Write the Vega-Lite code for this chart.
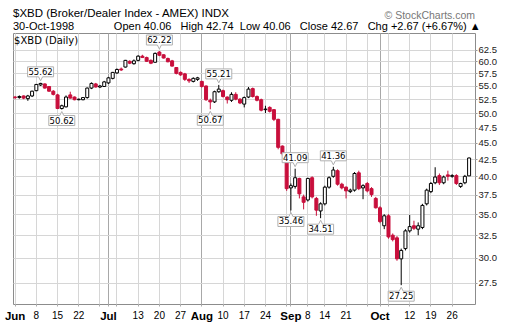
{
"$schema": "https://vega.github.io/schema/vega-lite/v6.json",
"width": 462, "height": 271,
"autosize": "none",
"padding": {"left": 13, "top": 33, "right": 35, "bottom": 23},
"background": "white",
"title": {
 "text": "$XBD (Broker/Dealer Index - AMEX) INDX",
 "subtitle": "30-Oct-1998\u00a0\u00a0\u00a0\u00a0\u00a0\u00a0\u00a0\u00a0\u00a0\u00a0\u00a0\u00a0\u00a0Open 40.06\u00a0\u00a0\u00a0High 42.74\u00a0\u00a0Low 40.06\u00a0\u00a0\u00a0Close 42.67\u00a0\u00a0\u00a0Chg +2.67 (+6.67%) \u25b2",
 "anchor": "start", "frame": "group", "offset": -21,
 "font": "Liberation Sans", "fontSize": 11.5, "fontWeight": "normal", "color": "#000",
 "subtitleFont": "Liberation Sans", "subtitleFontSize": 11, "subtitleColor": "#000", "subtitlePadding": 1
},
"config": {"view": {"stroke": "#8c8c8c"}},
"data": {"values": [
{"d":"1998-06-01","o":52.9,"h":53.1,"l":52.5,"c":52.8},
{"d":"1998-06-02","o":52.8,"h":53.2,"l":52.6,"c":53.0},
{"d":"1998-06-03","o":53.1,"h":53.2,"l":52.5,"c":52.7},
{"d":"1998-06-04","o":52.6,"h":53.3,"l":52.2,"c":53.1},
{"d":"1998-06-05","o":53.1,"h":54.1,"l":52.9,"c":54.0},
{"d":"1998-06-08","o":54.1,"h":55.4,"l":54.0,"c":55.3},
{"d":"1998-06-09","o":55.2,"h":55.62,"l":55.0,"c":55.5,"a":"above"},
{"d":"1998-06-10","o":55.4,"h":55.5,"l":54.5,"c":54.6},
{"d":"1998-06-11","o":54.9,"h":55.0,"l":53.9,"c":54.0},
{"d":"1998-06-12","o":54.0,"h":54.2,"l":53.2,"c":53.4},
{"d":"1998-06-15","o":53.3,"h":53.5,"l":50.7,"c":50.8},
{"d":"1998-06-16","o":50.8,"h":51.5,"l":50.62,"c":51.3,"a":"below"},
{"d":"1998-06-17","o":51.1,"h":53.2,"l":51.0,"c":52.9},
{"d":"1998-06-18","o":53.3,"h":53.9,"l":52.6,"c":52.7},
{"d":"1998-06-19","o":52.9,"h":53.0,"l":52.3,"c":52.4},
{"d":"1998-06-22","o":52.4,"h":52.6,"l":52.3,"c":52.5},
{"d":"1998-06-23","o":52.4,"h":52.9,"l":52.3,"c":52.8},
{"d":"1998-06-24","o":52.8,"h":54.7,"l":52.6,"c":54.6},
{"d":"1998-06-25","o":54.6,"h":55.7,"l":54.4,"c":55.5},
{"d":"1998-06-26","o":55.4,"h":55.6,"l":54.7,"c":54.8},
{"d":"1998-06-29","o":54.8,"h":55.2,"l":54.6,"c":55.0},
{"d":"1998-06-30","o":54.9,"h":56.0,"l":54.8,"c":55.8},
{"d":"1998-07-01","o":55.6,"h":56.8,"l":55.4,"c":56.6},
{"d":"1998-07-02","o":56.5,"h":57.8,"l":56.3,"c":57.7},
{"d":"1998-07-06","o":57.6,"h":58.5,"l":57.4,"c":58.3},
{"d":"1998-07-07","o":58.4,"h":58.7,"l":58.0,"c":58.2},
{"d":"1998-07-08","o":58.8,"h":60.3,"l":58.7,"c":60.2},
{"d":"1998-07-09","o":60.0,"h":60.2,"l":59.4,"c":59.6},
{"d":"1998-07-10","o":59.5,"h":60.4,"l":59.3,"c":60.1},
{"d":"1998-07-13","o":60.2,"h":61.3,"l":60.0,"c":61.1},
{"d":"1998-07-14","o":61.1,"h":61.4,"l":60.7,"c":60.8},
{"d":"1998-07-15","o":60.8,"h":61.0,"l":59.9,"c":60.0},
{"d":"1998-07-16","o":60.2,"h":60.4,"l":59.4,"c":59.6},
{"d":"1998-07-17","o":59.8,"h":61.9,"l":59.7,"c":61.7},
{"d":"1998-07-20","o":62.0,"h":62.22,"l":61.1,"c":61.3,"a":"above"},
{"d":"1998-07-21","o":61.4,"h":61.5,"l":60.6,"c":60.7},
{"d":"1998-07-22","o":60.6,"h":60.8,"l":59.8,"c":59.9},
{"d":"1998-07-23","o":60.1,"h":60.3,"l":58.9,"c":59.0},
{"d":"1998-07-24","o":58.7,"h":58.8,"l":57.3,"c":57.5},
{"d":"1998-07-27","o":57.7,"h":57.9,"l":57.0,"c":57.2},
{"d":"1998-07-28","o":57.4,"h":57.6,"l":56.0,"c":56.3},
{"d":"1998-07-29","o":56.3,"h":56.5,"l":55.6,"c":56.0},
{"d":"1998-07-30","o":55.9,"h":56.7,"l":55.7,"c":56.5},
{"d":"1998-07-31","o":56.3,"h":56.8,"l":56.0,"c":56.6},
{"d":"1998-08-03","o":55.9,"h":56.0,"l":54.7,"c":54.9},
{"d":"1998-08-04","o":55.0,"h":55.1,"l":52.2,"c":52.4},
{"d":"1998-08-05","o":52.3,"h":52.6,"l":50.67,"c":52.0,"a":"below"},
{"d":"1998-08-06","o":52.0,"h":54.1,"l":51.8,"c":53.9},
{"d":"1998-08-07","o":53.9,"h":55.21,"l":53.7,"c":54.4,"a":"above"},
{"d":"1998-08-10","o":54.1,"h":54.3,"l":52.8,"c":53.0},
{"d":"1998-08-11","o":52.9,"h":53.0,"l":51.7,"c":52.4},
{"d":"1998-08-12","o":52.3,"h":53.8,"l":52.0,"c":53.4},
{"d":"1998-08-13","o":53.4,"h":53.8,"l":52.3,"c":52.5},
{"d":"1998-08-14","o":52.5,"h":52.7,"l":51.6,"c":51.8},
{"d":"1998-08-17","o":51.6,"h":53.0,"l":51.0,"c":52.8},
{"d":"1998-08-18","o":52.9,"h":54.8,"l":52.7,"c":54.4},
{"d":"1998-08-19","o":54.5,"h":54.7,"l":52.8,"c":53.0},
{"d":"1998-08-20","o":53.0,"h":53.2,"l":52.1,"c":52.3},
{"d":"1998-08-21","o":52.4,"h":52.6,"l":50.3,"c":50.5},
{"d":"1998-08-24","o":50.6,"h":51.3,"l":50.0,"c":50.7},
{"d":"1998-08-25","o":51.0,"h":51.2,"l":50.1,"c":50.3},
{"d":"1998-08-26","o":50.6,"h":50.7,"l":48.6,"c":48.9},
{"d":"1998-08-27","o":48.9,"h":49.0,"l":44.0,"c":44.3},
{"d":"1998-08-28","o":44.5,"h":44.6,"l":43.0,"c":43.3},
{"d":"1998-08-31","o":43.3,"h":43.4,"l":38.0,"c":38.3},
{"d":"1998-09-01","o":38.4,"h":39.0,"l":35.46,"c":38.7,"a":"below"},
{"d":"1998-09-02","o":38.6,"h":41.09,"l":38.3,"c":39.8,"a":"above"},
{"d":"1998-09-03","o":39.7,"h":39.8,"l":37.0,"c":37.6},
{"d":"1998-09-04","o":37.2,"h":37.5,"l":35.6,"c":36.5},
{"d":"1998-09-08","o":36.8,"h":39.8,"l":36.6,"c":39.7},
{"d":"1998-09-09","o":39.8,"h":40.0,"l":37.0,"c":37.2},
{"d":"1998-09-10","o":37.0,"h":37.2,"l":34.8,"c":35.5},
{"d":"1998-09-11","o":35.4,"h":36.5,"l":34.51,"c":36.3,"a":"below"},
{"d":"1998-09-14","o":36.3,"h":38.7,"l":36.1,"c":38.5},
{"d":"1998-09-15","o":38.5,"h":40.0,"l":38.3,"c":39.8},
{"d":"1998-09-16","o":40.0,"h":41.36,"l":39.8,"c":40.9,"a":"above"},
{"d":"1998-09-17","o":40.8,"h":41.0,"l":38.7,"c":38.9},
{"d":"1998-09-18","o":38.9,"h":39.1,"l":38.2,"c":38.4},
{"d":"1998-09-21","o":38.5,"h":38.6,"l":37.0,"c":38.0},
{"d":"1998-09-22","o":37.9,"h":38.3,"l":37.7,"c":38.1},
{"d":"1998-09-23","o":38.1,"h":40.6,"l":37.9,"c":40.4},
{"d":"1998-09-24","o":40.5,"h":40.8,"l":38.1,"c":38.3},
{"d":"1998-09-25","o":38.4,"h":38.9,"l":36.9,"c":38.7},
{"d":"1998-09-28","o":39.0,"h":39.2,"l":37.8,"c":38.0},
{"d":"1998-09-29","o":38.3,"h":38.5,"l":37.2,"c":37.5},
{"d":"1998-09-30","o":37.0,"h":37.2,"l":35.7,"c":35.8},
{"d":"1998-10-01","o":35.8,"h":36.0,"l":33.9,"c":34.1},
{"d":"1998-10-02","o":33.6,"h":35.0,"l":33.2,"c":34.8},
{"d":"1998-10-05","o":34.8,"h":35.0,"l":32.1,"c":32.3},
{"d":"1998-10-06","o":32.5,"h":32.7,"l":31.8,"c":32.0},
{"d":"1998-10-07","o":32.2,"h":32.4,"l":29.7,"c":29.9},
{"d":"1998-10-08","o":29.9,"h":31.0,"l":27.25,"c":30.8,"a":"below"},
{"d":"1998-10-09","o":31.0,"h":33.2,"l":30.8,"c":33.0},
{"d":"1998-10-12","o":33.0,"h":34.9,"l":32.8,"c":33.5},
{"d":"1998-10-13","o":33.6,"h":34.2,"l":33.1,"c":33.3},
{"d":"1998-10-14","o":33.2,"h":34.0,"l":32.5,"c":33.6},
{"d":"1998-10-15","o":33.4,"h":36.3,"l":33.2,"c":36.1},
{"d":"1998-10-16","o":36.3,"h":38.3,"l":36.1,"c":38.1},
{"d":"1998-10-19","o":37.9,"h":39.2,"l":37.7,"c":39.0},
{"d":"1998-10-20","o":39.1,"h":41.3,"l":38.9,"c":39.9},
{"d":"1998-10-21","o":40.1,"h":40.4,"l":38.8,"c":39.1},
{"d":"1998-10-22","o":39.1,"h":40.1,"l":38.9,"c":39.9},
{"d":"1998-10-23","o":40.2,"h":40.8,"l":39.4,"c":40.0},
{"d":"1998-10-26","o":40.0,"h":40.3,"l":39.8,"c":40.1},
{"d":"1998-10-27","o":40.1,"h":40.3,"l":38.8,"c":39.0},
{"d":"1998-10-28","o":38.6,"h":39.1,"l":38.4,"c":39.0},
{"d":"1998-10-29","o":39.1,"h":40.2,"l":38.9,"c":40.0},
{"d":"1998-10-30","o":40.06,"h":42.74,"l":40.06,"c":42.67}
]},
"layer": [
 {"mark": {"type": "rule", "strokeWidth": 1},
  "encoding": {
   "x": {"field": "d", "type": "ordinal",
    "scale": {"paddingInner": 0, "paddingOuter": 0.445, "align": 0},
    "axis": {"title": null, "orient": "bottom", "domain": false, "grid": true, "bandPosition": 0.5,
     "values": ["1998-06-01","1998-06-08","1998-06-15","1998-06-22","1998-06-29","1998-07-01","1998-07-06","1998-07-13","1998-07-20","1998-07-27","1998-08-03","1998-08-10","1998-08-17","1998-08-24","1998-08-31","1998-09-01","1998-09-08","1998-09-14","1998-09-21","1998-09-28","1998-10-01","1998-10-05","1998-10-12","1998-10-19","1998-10-26"],
     "labelExpr": "indexof(['1998-06-29','1998-07-06','1998-08-31','1998-09-28','1998-10-05'], datum.value) >= 0 ? '' : (indexof(['1998-06-01','1998-07-01','1998-08-03','1998-09-01','1998-10-01'], datum.value) >= 0 ? utcFormat(toDate(datum.value), '%b') : '' + toNumber(slice(datum.value, 8)))",
     "labelAngle": 0, "labelOverlap": false, "labelBound": false, "labelPadding": 4,
     "labelFont": "Liberation Sans", "labelColor": "#000",
     "labelFontSize": {"condition": {"test": "indexof(['1998-06-01','1998-07-01','1998-08-03','1998-09-01','1998-10-01'], datum.value) >= 0", "value": 11.5}, "value": 10},
     "labelFontWeight": {"condition": {"test": "indexof(['1998-06-01','1998-07-01','1998-08-03','1998-09-01','1998-10-01'], datum.value) >= 0", "value": "bold"}, "value": "normal"},
     "gridColor": {"condition": {"test": "indexof(['1998-07-01','1998-08-03','1998-09-01','1998-10-01'], datum.value) >= 0", "value": "#a8a8a8"}, "value": "#d6d6d6"},
     "tickSize": 2, "tickColor": "#aaa"}},
   "y": {"field": "l", "type": "quantitative",
    "scale": {"type": "log", "domain": [25.5, 66.3], "nice": false},
    "axis": {"title": null, "orient": "right", "domain": false, "grid": true, "gridColor": "#d6d6d6",
     "values": [27.5,30,32.5,35,37.5,40,42.5,45,47.5,50,52.5,55,57.5,60,62.5],
     "format": ".1f", "labelFont": "Liberation Sans", "labelFontSize": 9.5, "labelColor": "#222",
     "tickSize": 2, "tickColor": "#999", "labelPadding": 1}},
   "y2": {"field": "h"},
   "color": {"condition": {"test": "datum.c < datum.o", "value": "#c80f3c"}, "value": "#000"}
  }},
 {"mark": {"type": "bar", "size": 3, "strokeWidth": 1},
  "encoding": {
   "x": {"field": "d", "type": "ordinal"},
   "y": {"field": "o", "type": "quantitative"},
   "y2": {"field": "c"},
   "fill": {"condition": {"test": "datum.c < datum.o", "value": "#c80f3c"}, "value": "#fff"},
   "stroke": {"condition": {"test": "datum.c < datum.o", "value": "#c80f3c"}, "value": "#000"}
  }},
 {"transform": [{"filter": "datum.a == 'above'"}],
  "mark": {"type": "point", "shape": "M-1,-1.231H1V-0.462H0.154L0,-0.154L-0.154,-0.462H-1Z", "size": 676, "filled": true, "fill": "#fff", "stroke": "#b0b0b0", "strokeWidth": 1, "opacity": 1},
  "encoding": {"x": {"field": "d", "type": "ordinal"}, "y": {"field": "h", "type": "quantitative"}}},
 {"transform": [{"filter": "datum.a == 'above'"}],
  "mark": {"type": "text", "dy": -11, "baseline": "middle", "font": "DejaVu Sans", "fontSize": 8.5, "color": "#000"},
  "encoding": {"x": {"field": "d", "type": "ordinal"}, "y": {"field": "h", "type": "quantitative"}, "text": {"field": "h", "type": "quantitative", "format": ".2f"}}},
 {"transform": [{"filter": "datum.a == 'below'"}],
  "mark": {"type": "point", "shape": "M-1,1.231H1V0.462H0.154L0,0.154L-0.154,0.462H-1Z", "size": 676, "filled": true, "fill": "#fff", "stroke": "#b0b0b0", "strokeWidth": 1, "opacity": 1},
  "encoding": {"x": {"field": "d", "type": "ordinal"}, "y": {"field": "l", "type": "quantitative"}}},
 {"transform": [{"filter": "datum.a == 'below'"}],
  "mark": {"type": "text", "dy": 11, "baseline": "middle", "font": "DejaVu Sans", "fontSize": 8.5, "color": "#000"},
  "encoding": {"x": {"field": "d", "type": "ordinal"}, "y": {"field": "l", "type": "quantitative"}, "text": {"field": "l", "type": "quantitative", "format": ".2f"}}},
 {"data": {"values": [{"t": "$XBD (Daily)"}]},
  "mark": {"type": "text", "align": "left", "baseline": "middle", "dx": -1, "font": "DejaVu Sans", "fontSize": 10, "color": "#000"},
  "encoding": {"x": {"datum": "1998-06-01", "type": "ordinal"}, "y": {"datum": 64.5, "type": "quantitative"}, "text": {"field": "t"}}},
 {"data": {"values": [{"t": "\u00a9 StockCharts.com"}]},
  "mark": {"type": "text", "align": "right", "baseline": "middle", "dx": 6, "font": "Liberation Sans", "fontSize": 10.5, "color": "#777"},
  "encoding": {"x": {"datum": "1998-10-30", "type": "ordinal"}, "y": {"datum": 70.5, "type": "quantitative"}, "text": {"field": "t"}}}
]
}
